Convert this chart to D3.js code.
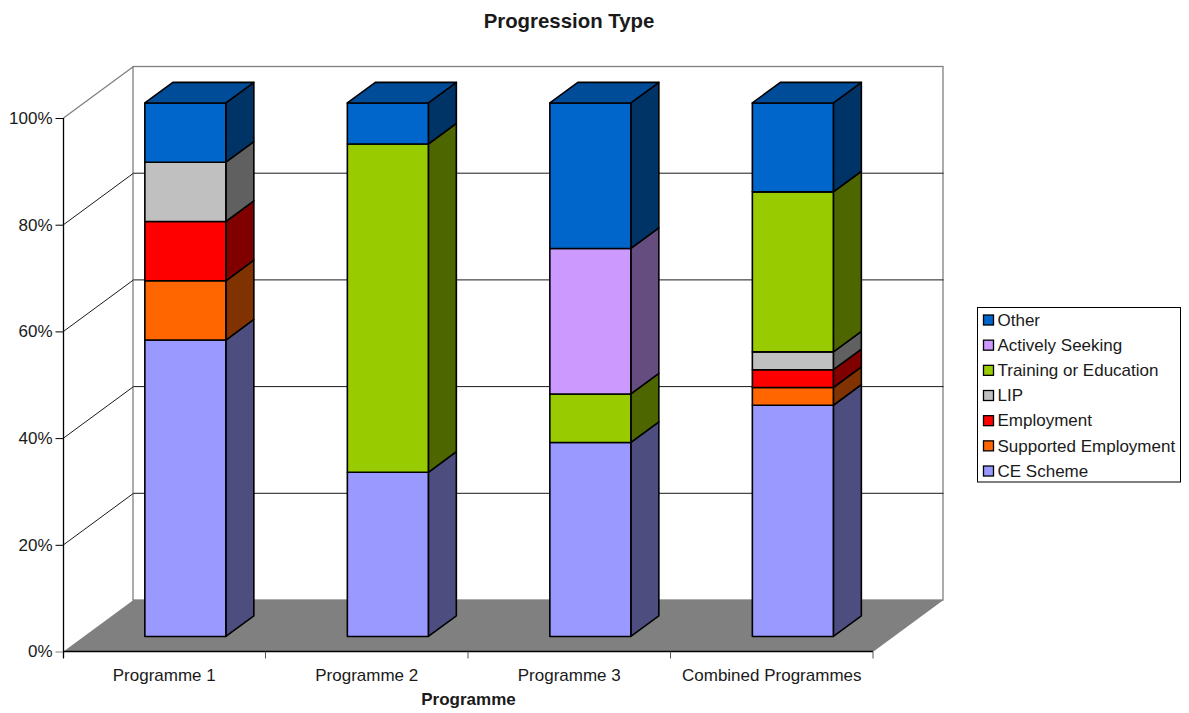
<!DOCTYPE html>
<html>
<head>
<meta charset="utf-8">
<script src="https://cdn.jsdelivr.net/npm/d3@7/dist/d3.min.js"></script>
<style>
  html, body { margin: 0; padding: 0; background: #fff; }
  svg { display: block; font-family: "Liberation Sans", Arial, sans-serif; }
  text { fill: #1a1a1a; }
</style>
</head>
<body>
<svg id="chart" width="1189" height="713"></svg>
<script>
// Learner counts per programme; each column is normalised to 100%.
const programmes = ["Programme 1", "Programme 2", "Programme 3", "Combined Programmes"];
const seriesNames = ["CE Scheme", "Supported Employment", "Employment", "LIP", "Training or Education", "Actively Seeking", "Other"];
const ceScheme = [5, 4, 4, 13];
const supportedEmployment = [1, 0, 0, 1];
const employment = [1, 0, 0, 1];
const lip = [1, 0, 0, 1];
const trainingOrEducation = [0, 8, 1, 9];
const activelySeeking = [0, 0, 3, 0];
const other = [1, 1, 3, 5];
const seriesValues = [ceScheme, supportedEmployment, employment, lip, trainingOrEducation, activelySeeking, other];

const frontColors = ["#9999ff", "#ff6600", "#ff0000", "#c0c0c0", "#99cc00", "#cc99ff", "#0066cc"];
const sideColors = ["#4d4d80", "#803300", "#800000", "#606060", "#4d6600", "#664d80", "#003366"];
const topColor = "#004c99";
const percentTicks = [0, 0.2, 0.4, 0.6, 0.8, 1];

const svg = d3.select("#chart");

// Plot frame and oblique projection of the depth axis.
const left = 63.5, right = 873.5, bottom = 651.5, topY = 118;
const depthX = 70, depthY = -51.5;
const x = d3.scaleBand().domain(programmes).range([left, right]);
const y = d3.scaleLinear().domain([0, 1]).range([bottom, topY]);
const barWidth = x.bandwidth() * 0.4;
const barDepthStart = 0.3, barDepthEnd = 0.7;

// Projects a plot position at depth t (0 = front, 1 = back) to the page.
const project = (px, py, t) => [px + depthX * t, py + depthY * t];
const poly = pts => pts.map(p => p.join(",")).join(" ");

// Stacked shares per programme.
const rows = programmes.map((name, i) => {
  const row = { name };
  seriesNames.forEach((s, j) => { row[s] = seriesValues[j][i]; });
  return row;
});
const stacked = d3.stack().keys(seriesNames).offset(d3.stackOffsetExpand)(rows);

// Floor and walls.
const walls = svg.append("g");
walls.append("polygon")
  .attr("points", poly([project(left, bottom, 0), project(right, bottom, 0), project(right, bottom, 1), project(left, bottom, 1)]))
  .attr("fill", "#808080");
walls.append("rect")
  .attr("x", left + depthX - 0.5).attr("y", topY + depthY)
  .attr("width", right - left).attr("height", bottom - topY)
  .attr("fill", "none").attr("stroke", "#808080").attr("stroke-width", 1.3);
walls.append("line")
  .attr("x1", left).attr("y1", y(1))
  .attr("x2", left + depthX).attr("y2", y(1) + depthY)
  .attr("stroke", "#808080").attr("stroke-width", 1.3);

// Gridlines run back along the side wall, then across the back wall.
percentTicks.filter(v => v > 0 && v < 1).forEach(v => {
  walls.append("polyline")
    .attr("points", poly([project(left, y(v), 0), project(left, y(v), 1), project(right, y(v), 1)]))
    .attr("fill", "none").attr("stroke", "#1a1a1a").attr("stroke-width", 1);
});

// Axes.
const yAxis = svg.append("g")
  .attr("transform", `translate(${left},0)`)
  .call(d3.axisLeft(y).tickValues(percentTicks).tickFormat(d3.format(".0%")).tickSize(8).tickPadding(3));
yAxis.selectAll("text").attr("font-size", 17).attr("font-family", "inherit").attr("fill", "#1a1a1a");
yAxis.selectAll(".tick line").attr("stroke", "#000");
yAxis.select(".tick line").attr("stroke", "#808080");
yAxis.select(".domain").attr("stroke", "#000").attr("stroke-width", 1.3).attr("d", `M0,${topY}V${bottom + 6.5}`);

const xAxis = svg.append("g")
  .attr("transform", `translate(-0.5,${bottom})`)
  .call(d3.axisBottom(x).tickSize(0).tickPadding(17));
xAxis.selectAll("text").attr("font-size", 17).attr("font-family", "inherit").attr("fill", "#1a1a1a");
xAxis.select(".domain").attr("stroke", "#000").attr("stroke-width", 1.3).attr("d", `M${left + 0.5},0H${right}`);
xAxis.selectAll(".edge").data([left + 0.5, ...programmes.map(p => x(p) + x.step())]).enter()
  .append("line").attr("class", "edge")
  .attr("x1", d => d).attr("x2", d => d).attr("y1", 0).attr("y2", 7)
  .attr("stroke", (d, i) => i === 0 ? "#000" : "#555").attr("stroke-width", 1);

// Bars: front face, side face, and a top cap on the last segment of each column.
const barsLayer = svg.append("g")
  .attr("transform", "translate(-0.4,0.4)")
  .attr("stroke", "#000").attr("stroke-width", 1.6).attr("stroke-linejoin", "round");
programmes.forEach((name, i) => {
  const x0 = x(name) + (x.bandwidth() - barWidth) / 2, x1 = x0 + barWidth;
  stacked.forEach((layer, k) => {
    const [v0, v1] = layer[i];
    if (v1 - v0 <= 0) return;
    const yb = y(v0), yt = y(v1);
    barsLayer.append("polygon")
      .attr("fill", sideColors[k])
      .attr("points", poly([project(x1, yb, barDepthStart), project(x1, yb, barDepthEnd), project(x1, yt, barDepthEnd), project(x1, yt, barDepthStart)]));
    barsLayer.append("polygon")
      .attr("fill", frontColors[k])
      .attr("points", poly([project(x0, yb, barDepthStart), project(x1, yb, barDepthStart), project(x1, yt, barDepthStart), project(x0, yt, barDepthStart)]));
    if (v1 >= 1 - 1e-9) {
      barsLayer.append("polygon")
        .attr("fill", topColor)
        .attr("points", poly([project(x0, yt, barDepthStart), project(x1, yt, barDepthStart), project(x1, yt, barDepthEnd), project(x0, yt, barDepthEnd)]));
    }
  });
});

// Titles.
svg.append("text").attr("x", 569).attr("y", 28).attr("text-anchor", "middle")
  .attr("font-size", 20.4).attr("font-weight", "bold").text("Progression Type");
svg.append("text").attr("x", 468.5).attr("y", 705).attr("text-anchor", "middle")
  .attr("font-size", 17).attr("font-weight", "bold").text("Programme");

// Legend, listed from the top of the stack downwards.
const legendX = 977.5, legendY = 307.5, legendW = 203, legendH = 174.5, rowStep = 25.17;
const legend = svg.append("g");
legend.append("rect")
  .attr("x", legendX).attr("y", legendY).attr("width", legendW).attr("height", legendH)
  .attr("fill", "#fff").attr("stroke", "#000").attr("stroke-width", 1);
const legendOrder = d3.range(seriesNames.length).reverse();
const legendRows = legend.selectAll(".row").data(legendOrder).enter().append("g")
  .attr("class", "row")
  .attr("transform", (d, i) => `translate(${legendX},${legendY + 12.5 + i * rowStep})`);
legendRows.append("rect")
  .attr("x", 6).attr("y", -5).attr("width", 10).attr("height", 10)
  .attr("fill", d => frontColors[d]).attr("stroke", "#000").attr("stroke-width", 1.3);
legendRows.append("text")
  .attr("x", 20).attr("y", 5.8).attr("font-size", 17)
  .text(d => seriesNames[d]);
</script>
</body>
</html>
